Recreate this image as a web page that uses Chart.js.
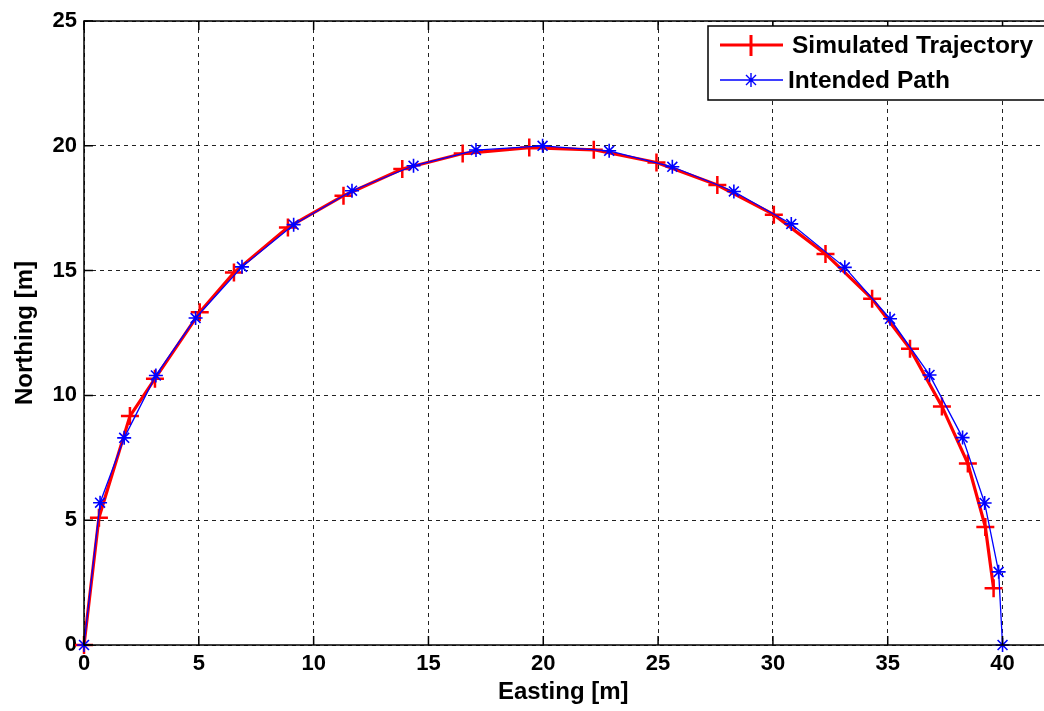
<!DOCTYPE html>
<html lang="en">
<head>
<meta charset="UTF-8">
<title>Simulated Trajectory vs Intended Path</title>
<script src="https://cdn.jsdelivr.net/npm/chart.js@4"></script>
<style>
  html, body { margin: 0; padding: 0; background: #fff; overflow: hidden; }
  canvas { display: block; }
</style>
</head>
<body>
<!-- a little wider than the window: the original figure is cropped at the right edge -->
<canvas id="traj" width="1054" height="711"></canvas>
<script>
  // values, Easting / Northing in metres
  const simEast  = [0, 0.65, 2.0, 3.09, 5.04, 6.53, 8.88, 11.3, 13.86, 16.49, 19.39, 22.2, 24.93, 27.58, 30.04, 32.29, 34.32, 35.97, 37.36, 38.49, 39.25, 39.61];
  const simNorth = [0, 5.1, 9.17, 10.67, 13.33, 14.92, 16.73, 18.0, 19.07, 19.69, 19.93, 19.84, 19.33, 18.43, 17.24, 15.67, 13.87, 11.87, 9.56, 7.27, 4.73, 2.27];

  const pathEast  = [0, 0.7, 1.75, 3.13, 4.86, 6.88, 9.13, 11.67, 14.35, 17.07, 19.97, 22.87, 25.62, 28.3, 30.8, 33.13, 35.1, 36.82, 38.26, 39.22, 39.83, 40.0];
  const pathNorth = [0, 5.7, 8.3, 10.8, 13.1, 15.15, 16.84, 18.2, 19.2, 19.83, 20.0, 19.8, 19.16, 18.17, 16.87, 15.13, 13.07, 10.82, 8.31, 5.69, 2.93, 0];

  const xTicks = [0, 5, 10, 15, 20, 25, 30, 35, 40];
  const yTicks = [0, 5, 10, 15, 20, 25];

  const seriesNames = ['Simulated Trajectory', 'Intended Path'];

  const toPts = (xs, ys) => xs.map((x, i) => ({ x: x, y: ys[i] }));

  const FONT = '"Liberation Sans", Arial, sans-serif';

  // box round the axes plus the small inward ticks MATLAB draws
  const framePlugin = {
    id: 'frame',
    afterDatasetsDraw(chart) {
      const { ctx, chartArea: a, scales } = chart;
      const len = 9;
      ctx.save();
      ctx.strokeStyle = '#000';
      ctx.lineWidth = 1.5;
      ctx.setLineDash([]);
      ctx.beginPath();
      xTicks.forEach(v => {
        const px = scales.x.getPixelForValue(v);
        ctx.moveTo(px, a.bottom); ctx.lineTo(px, a.bottom - len);
        ctx.moveTo(px, a.top); ctx.lineTo(px, a.top + len);
      });
      yTicks.forEach(v => {
        const py = scales.y.getPixelForValue(v);
        ctx.moveTo(a.left, py); ctx.lineTo(a.left + len, py);
      });
      ctx.stroke();
      ctx.strokeRect(a.left, a.top, 1200, a.bottom - a.top);
      ctx.restore();
    }
  };

  const legendPlugin = {
    id: 'boxLegend',
    afterDraw(chart) {
      const ctx = chart.ctx;
      const x0 = 708, y0 = 26, h = 74;
      ctx.save();
      ctx.fillStyle = '#fff';
      ctx.fillRect(x0, y0, 400, h);
      ctx.strokeStyle = '#000';
      ctx.lineWidth = 1.5;
      ctx.strokeRect(x0, y0, 400, h);

      // red row
      ctx.strokeStyle = '#ff0000';
      ctx.lineWidth = 3;
      ctx.beginPath();
      ctx.moveTo(720, 45); ctx.lineTo(783, 45);
      ctx.moveTo(751, 35); ctx.lineTo(751, 56);
      ctx.stroke();

      // blue row
      ctx.strokeStyle = '#0000ff';
      ctx.lineWidth = 1.4;
      ctx.beginPath();
      ctx.moveTo(720, 80); ctx.lineTo(783, 80);
      ctx.moveTo(751, 73); ctx.lineTo(751, 87);
      ctx.moveTo(746, 75); ctx.lineTo(756, 85);
      ctx.moveTo(746, 85); ctx.lineTo(756, 75);
      ctx.stroke();

      ctx.fillStyle = '#000';
      ctx.font = 'bold 24.5px ' + FONT;
      ctx.textBaseline = 'middle';
      ctx.fillText(seriesNames[0], 792, 46);
      ctx.fillText(seriesNames[1], 788, 81);
      ctx.restore();
    }
  };

  const ctx = document.getElementById('traj').getContext('2d');

  const chart = new Chart(ctx, {
    type: 'scatter',
    data: {
      datasets: [
        {
          label: seriesNames[0],
          data: toPts(simEast, simNorth),
          showLine: true,
          borderColor: '#ff0000',
          backgroundColor: '#ff0000',
          borderWidth: 3.2,
          pointStyle: 'cross',
          pointRadius: 9,
          pointBorderWidth: 2.5,
          pointHoverRadius: 9,
          clip: false,
          order: 2
        },
        {
          label: seriesNames[1],
          data: toPts(pathEast, pathNorth),
          showLine: true,
          borderColor: '#0000ff',
          backgroundColor: '#0000ff',
          borderWidth: 1.3,
          pointStyle: 'star',
          pointRadius: 7,
          pointBorderWidth: 1.6,
          pointHoverRadius: 7,
          clip: false,
          order: 1
        }
      ]
    },
    options: {
      responsive: false,
      animation: false,
      layout: { padding: { top: 21, right: 0, bottom: 0, left: 0 } },
      plugins: {
        legend: { display: false },
        tooltip: { enabled: false }
      },
      scales: {
        x: {
          type: 'linear',
          min: 0,
          max: 41.74,
          afterFit(s) { s.height = 66; },
          ticks: {
            stepSize: 5,
            includeBounds: false,
            padding: 6,
            color: '#000',
            font: { family: FONT, size: 22, weight: 'bold' }
          },
          grid: { color: '#222', lineWidth: 1, drawTicks: false },
          border: { display: false, dash: [4, 4] },
          title: {
            display: true,
            text: 'Easting [m]',
            color: '#000',
            padding: { top: 0, bottom: 4 },
            font: { family: FONT, size: 24, weight: 'bold' }
          }
        },
        y: {
          type: 'linear',
          min: 0,
          max: 25,
          afterFit(s) { s.width = 84; },
          ticks: {
            stepSize: 5,
            padding: 7,
            color: '#000',
            font: { family: FONT, size: 22, weight: 'bold' }
          },
          grid: { color: '#222', lineWidth: 1, drawTicks: false },
          border: { display: false, dash: [4, 4] },
          title: {
            display: true,
            text: 'Northing [m]',
            color: '#000',
            padding: { top: 11, bottom: 0 },
            font: { family: FONT, size: 24, weight: 'bold' }
          }
        }
      }
    },
    plugins: [framePlugin, legendPlugin]
  });
</script>
</body>
</html>
